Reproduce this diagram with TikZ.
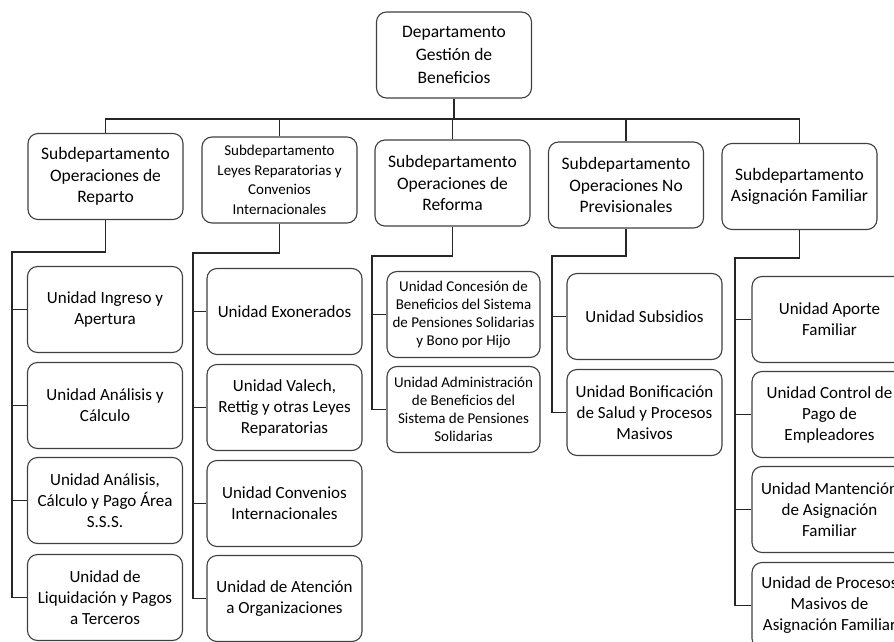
\documentclass[tikz,border=0pt]{standalone}
\usepackage{fontspec}
\setmainfont{Carlito}
\begin{document}
\begin{tikzpicture}[x=1pt,y=-1pt,
  box/.style={draw=black!75, line width=1.1pt, rounded corners=10pt, fill=white,
    align=center, inner sep=0pt, minimum width=155pt, minimum height=86pt,
    text=black, font=\fontsize{17}{21}\selectfont},
  subbox/.style={box, font=\fontsize{17.5}{21.5}\selectfont},
  small/.style={font=\fontsize{15}{19.5}\selectfont},
  smaller/.style={font=\fontsize{15}{18}\selectfont},
  link/.style={draw=black!85, line width=1.6pt}]
\useasboundingbox (0,0) rectangle (894,642);
\clip (0,0) rectangle (894,642);

% head of the department
\node[box, font=\fontsize{17.5}{23}\selectfont] (top) at (454,55) {Departamento\\Gestión de\\Beneficios};

% sub-departments
\node[subbox] (s1) at (105.5,176.5) {Subdepartamento\\Operaciones de\\Reparto};
\node[box, small] (s2) at (279.5,180) {Subdepartamento\\Leyes Reparatorias y\\Convenios\\Internacionales};
\node[subbox] (s3) at (452.5,183) {Subdepartamento\\Operaciones de\\Reforma};
\node[subbox] (s4) at (626,185) {Subdepartamento\\Operaciones No\\Previsionales};
\node[subbox] (s5) at (799.5,186.5) {Subdepartamento\\Asignación Familiar};

% units under each sub-department
\node[box] (u11) at (105,309.5) {Unidad Ingreso y\\Apertura};
\node[box] (u12) at (105,405.5) {Unidad Análisis y\\Cálculo};
\node[box] (u13) at (105,500.5) {Unidad Análisis,\\Cálculo y Pago Área\\S.S.S.};
\node[box] (u14) at (105,597.5) {Unidad de\\Liquidación y Pagos\\a Terceros};

\node[box] (u21) at (284.5,311.5) {Unidad Exonerados};
\node[box] (u22) at (284.5,407.5) {Unidad Valech,\\Rettig y otras Leyes\\Reparatorias};
\node[box] (u23) at (284.5,503.5) {Unidad Convenios\\Internacionales};
\node[box] (u24) at (284.5,598.5) {Unidad de Atención\\a Organizaciones};

\node[box, smaller, minimum width=153pt] (u31) at (463.5,314.5) {Unidad Concesión de\\Beneficios del Sistema\\de Pensiones Solidarias\\y Bono por Hijo};
\node[box, smaller, minimum width=153pt] (u32) at (463.5,409.5) {Unidad Administración\\de Beneficios del\\Sistema de Pensiones\\Solidarias};

\node[box] (u41) at (644.5,316.5) {Unidad Subsidios};
\node[box] (u42) at (644.5,412.5) {Unidad Bonificación\\de Salud y Procesos\\Masivos};

\node[box] (u51) at (829.5,319.5) {Unidad Aporte\\Familiar};
\node[box] (u52) at (829.5,414.5) {Unidad Control de\\Pago de\\Empleadores};
\node[box] (u53) at (829.5,509.5) {Unidad Mantención\\de Asignación\\Familiar};
\node[box] (u54) at (829.5,605.5) {Unidad de Procesos\\Masivos de\\Asignación Familiar};

% main bus
\coordinate (bus) at (454,119);
\draw[link] (top.south) -- (bus);
\draw[link] (s1.north) |- (bus) -| (s5.north);
\draw[link] (s2.north) -- (s2.north |- bus);
\draw[link] (s3.north) -- (s3.north |- bus);
\draw[link] (s4.north) -- (s4.north |- bus);

% elbows of the unit trunks
\coordinate (e1) at (12,252);
\coordinate (e2) at (193,253);
\coordinate (e3) at (372,256);
\coordinate (e4) at (552,256);
\coordinate (e5) at (735,258);

\draw[link] (s1.south) |- (e1) -- (e1 |- u14.west) -- (u14.west);
\foreach \u in {u11,u12,u13} \draw[link] (e1 |- \u.west) -- (\u.west);

\draw[link] (s2.south) |- (e2) -- (e2 |- u24.west) -- (u24.west);
\foreach \u in {u21,u22,u23} \draw[link] (e2 |- \u.west) -- (\u.west);

\draw[link] (s3.south) |- (e3) -- (e3 |- u32.west) -- (u32.west);
\draw[link] (e3 |- u31.west) -- (u31.west);

\draw[link] (s4.south) |- (e4) -- (e4 |- u42.west) -- (u42.west);
\draw[link] (e4 |- u41.west) -- (u41.west);

\draw[link] (s5.south) |- (e5) -- (e5 |- u54.west) -- (u54.west);
\foreach \u in {u51,u52,u53} \draw[link] (e5 |- \u.west) -- (\u.west);
\end{tikzpicture}
\end{document}
